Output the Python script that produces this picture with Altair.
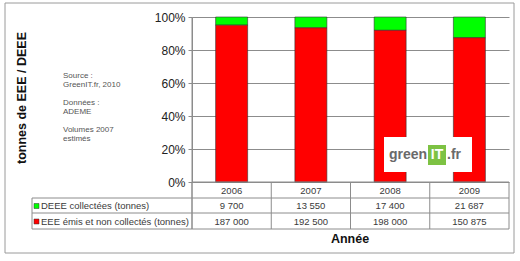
import altair as alt
import pandas as pd

# ---- data ----
years = ["2006", "2007", "2008", "2009"]
deee_collectees = [9700, 13550, 17400, 21687]
eee_non_collectes = [187000, 192500, 198000, 150875]
series_names = ["DEEE collectées (tonnes)", "EEE émis et non collectés (tonnes)"]
series_colors = ["#00FF00", "#FF0000"]
y_ticks = [0, 0.2, 0.4, 0.6, 0.8, 1.0]
source_blocks = [["Source :", "GreenIT.fr, 2010"], ["Données :", "ADEME"], ["Volumes 2007", "estimés"]]
y_title = "tonnes de EEE / DEEE"
x_title = "Année"

W, H = 317, 165
FONT = "Liberation Sans"
GRID = "#8c8c8c"
TXT = "#3a3a3a"


def fr(v):
    return f"{v:,}".replace(",", " ")


rows = []
for i, yr in enumerate(years):
    rows.append({"year": yr, "series": series_names[0], "value": deee_collectees[i], "ord": 1})
    rows.append({"year": yr, "series": series_names[1], "value": eee_non_collectes[i], "ord": 0})
df = pd.DataFrame(rows)

tab = pd.DataFrame({
    "year": years,
    "deee": [fr(v) for v in deee_collectees],
    "eee": [fr(v) for v in eee_non_collectes],
})

xs = alt.Scale(domain=years, paddingInner=0, paddingOuter=0)
one = pd.DataFrame({"a": [0]})


def hrule(x1, x2, y):
    return alt.Chart(one).mark_rule(color=GRID, strokeWidth=1).encode(
        x=alt.value(x1), x2=alt.value(x2), y=alt.value(y))


def vrule(x, y1, y2):
    return alt.Chart(one).mark_rule(color=GRID, strokeWidth=1).encode(
        x=alt.value(x), y=alt.value(y1), y2=alt.value(y2))


border = alt.Chart(one).mark_rect(fill="transparent", stroke="#9a9a9a", strokeWidth=1).encode(
    x=alt.value(-187), x2=alt.value(322), y=alt.value(-14), y2=alt.value(236))

bars = alt.Chart(df).mark_bar(size=32, stroke="#333333", strokeWidth=0.6).encode(
    x=alt.X("year:N", scale=xs, axis=None, sort=years),
    y=alt.Y("value:Q", stack="normalize",
            scale=alt.Scale(domain=[0, 1], nice=False),
            axis=alt.Axis(values=y_ticks, format="%", grid=True, gridColor=GRID,
                          domainColor=GRID, tickColor=GRID, tickSize=4,
                          labelFontSize=12, labelFont=FONT, labelColor="#222222",
                          labelPadding=3, title=None)),
    color=alt.Color("series:N", scale=alt.Scale(domain=series_names, range=series_colors), legend=None),
    order=alt.Order("ord:Q"),
)

# table grid
vsep = alt.Chart(tab).mark_rule(color=GRID, strokeWidth=1).encode(
    x=alt.X("year:N", scale=xs, axis=None, bandPosition=0),
    y=alt.value(H), y2=alt.value(212))

layers = [
    border,
    bars,
    hrule(-160, W, 181),
    hrule(-160, W, 196),
    hrule(-160, W, 212),
    hrule(0, W, H),
    vsep,
    vrule(W, H, 212),
    vrule(-160, 181, 212),
    vrule(0, 0, 212),
]


def row_text(field, y):
    return alt.Chart(tab).mark_text(fontSize=9.5, font=FONT, color=TXT, baseline="middle").encode(
        x=alt.X("year:N", scale=xs, axis=None, bandPosition=0.5),
        y=alt.value(y), text=f"{field}:N")


layers += [row_text("year", 173.5), row_text("deee", 189), row_text("eee", 204.5)]

for i, name in enumerate(series_names):
    yc = [189, 204.5][i]
    layers.append(alt.Chart(one).mark_rect(fill=series_colors[i], stroke="#333333", strokeWidth=0.5).encode(
        x=alt.value(-158), x2=alt.value(-153), y=alt.value(yc - 2.5), y2=alt.value(yc + 2.5)))
    layers.append(alt.Chart(one).mark_text(align="left", baseline="middle", fontSize=9.5, font=FONT, color=TXT).encode(
        x=alt.value(-151), y=alt.value(yc), text=alt.value(name)))

# titles
layers.append(alt.Chart(one).mark_text(angle=270, fontSize=12.5, fontWeight="bold", font=FONT, color="#111111",
                                       align="center", baseline="middle").encode(
    x=alt.value(-170), y=alt.value(81), text=alt.value(y_title)))
layers.append(alt.Chart(one).mark_text(fontSize=12.5, fontWeight="bold", font=FONT, color="#111111",
                                       align="center", baseline="middle").encode(
    x=alt.value(158), y=alt.value(222), text=alt.value(x_title)))

# source note (three blocks)
for blk, yb in zip(source_blocks, [59, 86, 113]):
    layers.append(alt.Chart(one).mark_text(align="left", baseline="middle", fontSize=8, lineHeight=8.5,
                                           font=FONT, color="#555555").encode(
        x=alt.value(-129), y=alt.value(yb), text=alt.value(blk)))

# logo
LOGO_FONT = "Liberation Sans"
layers += [
    alt.Chart(one).mark_rect(fill="white").encode(
        x=alt.value(192), x2=alt.value(280), y=alt.value(120), y2=alt.value(155)),
    alt.Chart(one).mark_text(align="left", baseline="middle", fontSize=14, fontWeight="bold",
                             font=LOGO_FONT, color="#6a6a6a").encode(
        x=alt.value(197), y=alt.value(138), text=alt.value("green")),
    alt.Chart(one).mark_rect(fill="#7dc243").encode(
        x=alt.value(236), x2=alt.value(254), y=alt.value(128), y2=alt.value(148)),
    alt.Chart(one).mark_text(align="center", baseline="middle", fontSize=14, fontWeight="bold",
                             font=LOGO_FONT, color="white").encode(
        x=alt.value(245), y=alt.value(138), text=alt.value("IT")),
    alt.Chart(one).mark_text(align="left", baseline="middle", fontSize=14, fontWeight="bold",
                             font=LOGO_FONT, color="#6a6a6a").encode(
        x=alt.value(255), y=alt.value(138), text=alt.value(".fr")),
]

chart = alt.layer(*layers).properties(
    width=W, height=H,
    padding={"left": 192, "top": 17, "right": 11, "bottom": 79},
    autosize=alt.AutoSizeParams(type="none"),
    background="white",
).configure_view(stroke=None)

chart.save("out.html", embed_options={"renderer": "svg", "actions": False})
